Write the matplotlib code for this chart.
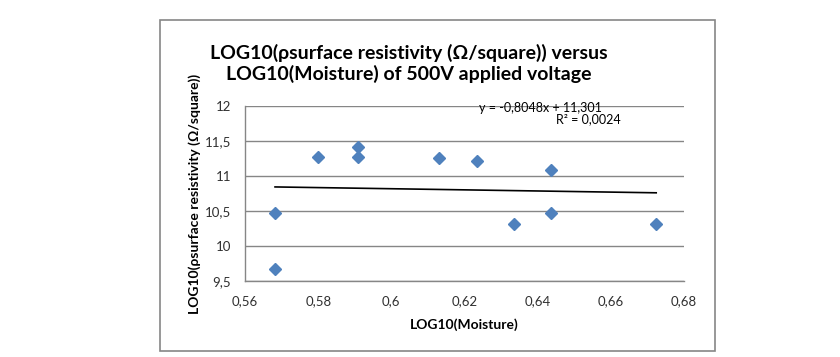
import numpy as np
import matplotlib.pyplot as plt
from matplotlib.patches import Rectangle

plt.rcParams['font.family'] = ['Lato', 'DejaVu Sans']

# data
moisture_log = [0.5682, 0.5682, 0.5799, 0.5910, 0.5910, 0.6130, 0.6234, 0.6335, 0.6437, 0.6437, 0.6724]
resist_log = [10.47, 9.67, 11.27, 11.41, 11.27, 11.26, 11.21, 10.32, 11.09, 10.47, 10.32]

# linear trendline as printed on the chart
slope = -0.8048
intercept = 11.301
r2 = 0.0024

x_ticks = [0.56, 0.58, 0.60, 0.62, 0.64, 0.66, 0.68]
x_tick_labels = ['0,56', '0,58', '0,6', '0,62', '0,64', '0,66', '0,68']
y_ticks = [9.5, 10, 10.5, 11, 11.5, 12]
y_tick_labels = ['9,5', '10', '10,5', '11', '11,5', '12']

fig = plt.figure(figsize=(8.4, 3.57), dpi=100)

# chart area border
fig.patches.append(Rectangle((0.1905, 0.017), 0.661, 0.927, transform=fig.transFigure,
                             fill=False, edgecolor='#868686', linewidth=1.2))

ax = fig.add_axes([0.2917, 0.2129, 0.5226, 0.4902])
ax.set_xlim(0.56, 0.68)
ax.set_ylim(9.5, 12)
ax.set_xticks(x_ticks)
ax.set_xticklabels(x_tick_labels)
ax.set_yticks(y_ticks)
ax.set_yticklabels(y_tick_labels)
ax.tick_params(length=0, labelsize=9.5, colors='#303030')
ax.tick_params(axis='y', pad=10)
ax.tick_params(axis='x', pad=10)
ax.grid(axis='y', color='#868686', linewidth=1.0)
ax.set_axisbelow(True)
for s in ['top', 'right']:
    ax.spines[s].set_visible(False)
for s in ['left', 'bottom']:
    ax.spines[s].set_color('#868686')
    ax.spines[s].set_linewidth(1.0)

ax.plot(moisture_log, resist_log, linestyle='none', marker='D', ms=6,
        color='#4F81BD', zorder=3)

xt = np.array([min(moisture_log), max(moisture_log)])
ax.plot(xt, slope * xt + intercept, color='black', linewidth=1.2, zorder=2)

ax.set_xlabel('LOG10(Moisture)', fontsize=10, fontweight='bold', labelpad=8)
ax.set_ylabel('LOG10(ρsurface resistivity (Ω/square))', fontsize=10,
              fontweight='bold', labelpad=3)

fig.text(0.4863, 0.822, 'LOG10(ρsurface resistivity (Ω/square)) versus\nLOG10(Moisture) of 500V applied voltage',
         ha='center', va='center', fontsize=14, fontweight='bold', linespacing=1.2)

fig.text(602 / 840, 1 - 108 / 357, 'y = -0,8048x + 11,301', ha='right', va='center', fontsize=9)
fig.text(621 / 840, 1 - 119 / 357, 'R² = 0,0024', ha='right', va='center', fontsize=9)

fig.savefig('out.png', dpi=100)
plt.close(fig)
